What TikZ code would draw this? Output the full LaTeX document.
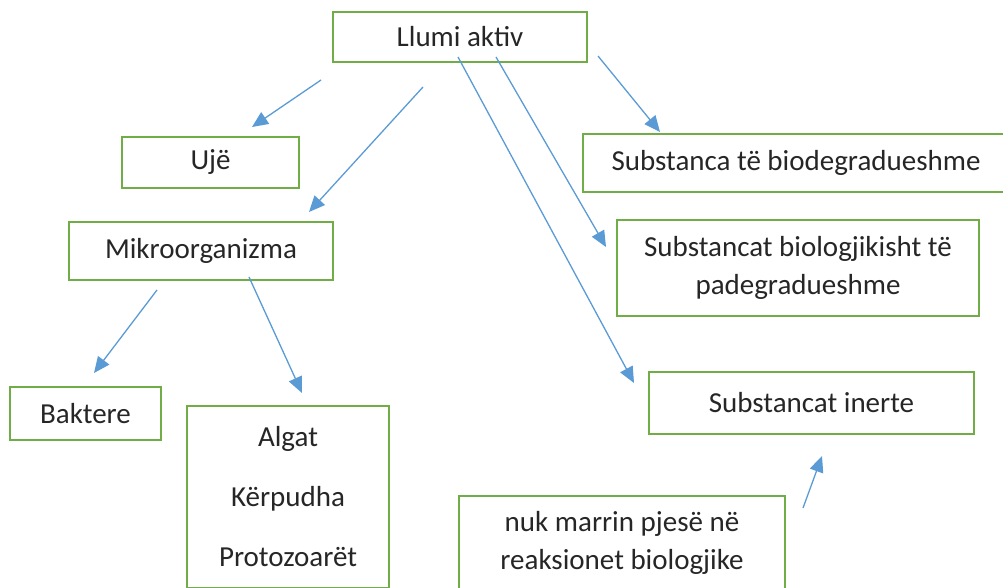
\documentclass[tikz,border=0pt]{standalone}
\usepackage{fontspec}
\setmainfont{Carlito}
\usetikzlibrary{arrows.meta}
\definecolor{boxgreen}{HTML}{70AD47}
\definecolor{arrowblue}{HTML}{5B9BD5}

\begin{document}
\begin{tikzpicture}[x=1pt,y=-1pt,
  box/.style={draw=boxgreen,line width=1.5pt,inner sep=0pt,align=center,
    text=black!85,font=\fontsize{29}{38}\selectfont},
  arr/.style={arrowblue,line width=1.3pt,-{Triangle[length=16pt,width=14pt]}}]
\path[use as bounding box,clip] (0,0) rectangle (1003,587);

% boxes
\node[box,minimum width=254pt,minimum height=50pt] (llumi) at (460,37) {Llumi aktiv};
\node[box,minimum width=177pt,minimum height=51pt] (uje) at (210.5,162.5) {Ujë};
\node[box,minimum width=264pt,minimum height=58pt] (mikro) at (201,251) {Mikroorganizma};
\node[box,minimum width=426pt,minimum height=58pt] (biodeg) at (796,163) {Substanca të biodegradueshme};
\node[box,minimum width=362pt,minimum height=96pt] (padeg) at (798,268) {Substancat biologjikisht të\\padegradueshme};
\node[box,minimum width=151pt,minimum height=53pt] (baktere) at (85.5,413.5) {Baktere};
\node[box,minimum width=202pt,minimum height=182pt] (algat) at (288,497) {Algat\\[22pt]Kërpudha\\[22pt]Protozoarët};
\node[box,minimum width=325pt,minimum height=62pt] (inerte) at (811.5,403) {Substancat inerte};
\node[box,minimum width=326pt,minimum height=94pt] (nuk) at (622,543) {nuk marrin pjesë në\\reaksionet biologjike};

% arrow ends
\coordinate (ujeA) at (321,80);    \coordinate (ujeB) at (252,127);
\coordinate (mikA) at (423,87);    \coordinate (mikB) at (309,212);
\coordinate (ineA) at (458,57);    \coordinate (ineB) at (634,383);
\coordinate (padA) at (496,57);    \coordinate (padB) at (606,247);
\coordinate (bioA) at (598,56);    \coordinate (bioB) at (660,132);
\coordinate (bakA) at (157,290);   \coordinate (bakB) at (94,373);
\coordinate (algA) at (249,277);   \coordinate (algB) at (302,393);
\coordinate (nukA) at (803,508);   \coordinate (nukB) at (822,456);

\foreach \a in {uje,mik,ine,pad,bio,bak,alg,nuk}
    \draw[arr] (\a A) -- (\a B);
\end{tikzpicture}
\end{document}
